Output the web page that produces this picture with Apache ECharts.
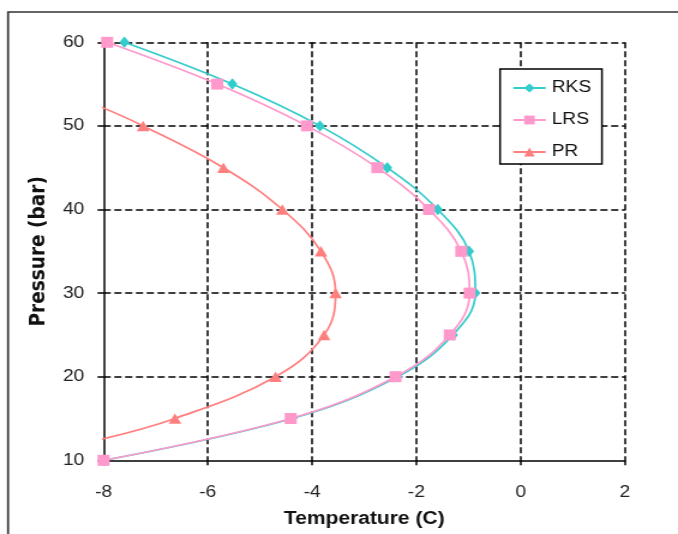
<!DOCTYPE html>
<html>
<head>
<meta charset="utf-8">
<script src="https://cdn.jsdelivr.net/npm/echarts@6/dist/echarts.min.js"></script>
<style>
html,body{margin:0;padding:0;background:#fff;}
#wrap{width:678px;height:534px;overflow:hidden;position:relative;background:#fff;}
#c{width:565px;height:534px;transform:scaleX(1.2);transform-origin:0 0;}
</style>
</head>
<body>
<div id="wrap"><div id="c"></div></div>
<script>
// Data
var pressure = [10, 15, 20, 25, 30, 35, 40, 45, 50, 55, 60];
var rksTemp = [-8.0, -4.38, -2.36, -1.30, -0.87, -0.99, -1.59, -2.56, -3.85, -5.53, -7.60];
var lrsTemp = [-8.0, -4.41, -2.40, -1.36, -0.98, -1.14, -1.76, -2.75, -4.10, -5.82, -7.93];
// PR curve: first and last entries are the ends of the drawn curve (no marker)
var prPressure = [12.4, 15, 20, 25, 30, 35, 40, 45, 50, 52.4];
var prTemp = [-8.12, -6.63, -4.70, -3.77, -3.55, -3.83, -4.57, -5.70, -7.24, -8.10];
var xTicks = {min: -8, max: 2, step: 2};
var yTicks = {min: 10, max: 60, step: 10};

function pairs(xs, ys) {
  return xs.map(function (x, i) { return [x, ys[i]]; });
}
var prData = pairs(prTemp, prPressure).map(function (p, i, arr) {
  if (i === 0 || i === arr.length - 1) return {value: p, symbol: 'none'};
  return p;
});

var font = 'Liberation Sans, Arial, sans-serif';
var chart = echarts.init(document.getElementById('c'), null, {renderer: 'canvas'});
var axisCommon = function (name, gap, margin, nameFont, nameSize) {
  return {
    type: 'value',
    name: name,
    nameLocation: 'middle',
    nameGap: gap,
    nameTextStyle: {fontSize: nameSize, fontWeight: 'bold', color: '#111', fontFamily: nameFont},
    axisLine: {show: true, onZero: false, lineStyle: {color: '#000', width: 1.5}},
    axisTick: {show: true, inside: false, length: 5, lineStyle: {color: '#000', width: 1.5}},
    axisLabel: {margin: margin, fontSize: 16, color: '#222', fontFamily: font},
    splitLine: {show: true, showMinLine: false, showMaxLine: true,
      lineStyle: {color: '#000', width: 1.5, type: [6, 3]}}
  };
};
var xAxis = axisCommon('Temperature (C)', 50, 24, font, 17.5);
xAxis.min = xTicks.min; xAxis.max = xTicks.max; xAxis.interval = xTicks.step;
var yAxis = axisCommon('Pressure (bar)', 45, 16, 'DejaVu Sans, sans-serif', 18.5);
yAxis.min = yTicks.min; yAxis.max = yTicks.max; yAxis.interval = yTicks.step;

chart.setOption({
  animation: false,
  backgroundColor: '#fff',
  grid: {left: 86.25, right: 44.2, top: 42.3, bottom: 73.7, containLabel: false},
  xAxis: xAxis,
  yAxis: yAxis,
  legend: {
    orient: 'vertical',
    left: 416.7,
    top: 69,
    padding: [11, 9, 4, 10],
    itemWidth: 27,
    itemHeight: 11,
    itemGap: 16,
    borderColor: '#000',
    borderWidth: 1.5,
    backgroundColor: '#fff',
    textStyle: {fontSize: 16, color: '#111', fontFamily: font},
    data: ['RKS', 'LRS', 'PR']
  },
  graphic: [{
    type: 'rect',
    silent: true,
    z: -1,
    shape: {x: 6.7, y: 12, width: 700, height: 600},
    style: {fill: 'none', stroke: '#333', lineWidth: 1.7}
  }],
  series: [
    {
      name: 'RKS', type: 'line', smooth: 0.4, clip: false,
      data: pairs(rksTemp, pressure),
      symbol: 'diamond', symbolSize: [8.5, 11.5],
      itemStyle: {color: '#33CCCC'},
      lineStyle: {color: '#33CCCC', width: 1.7},
      z: 2
    },
    {
      name: 'LRS', type: 'line', smooth: 0.4, clip: false,
      data: pairs(lrsTemp, pressure),
      symbol: 'rect', symbolSize: [10, 11],
      itemStyle: {color: '#FF99CC'},
      lineStyle: {color: '#FF99CC', width: 1.7},
      z: 3
    },
    {
      name: 'PR', type: 'line', smooth: 0.4, clip: false,
      data: prData,
      symbol: 'triangle', symbolSize: [10.5, 10.5],
      itemStyle: {color: '#FF7F7F'},
      lineStyle: {color: '#FF7F7F', width: 1.7},
      z: 4
    }
  ]
});
</script>
</body>
</html>
